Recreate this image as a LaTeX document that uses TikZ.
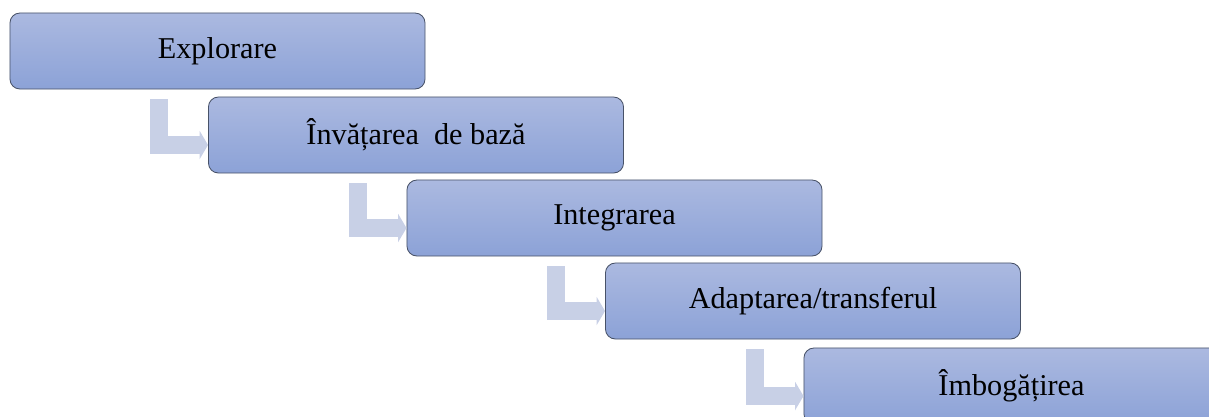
\documentclass[tikz,border=0pt]{standalone}
\usepackage{fontspec}
\setmainfont{Liberation Serif}
\usetikzlibrary{arrows.meta}
\begin{document}
\begin{tikzpicture}[x=0.025cm,y=-0.025cm]

	%DEFINITII
	\tikzstyle{every node}=[font=\fontsize{21.5}{26}\selectfont]
	\tikzstyle{etapa} = [draw={rgb,255:red,72; green,82; blue,104}, line width=0.6pt, rounded corners=0.25cm, align=center, top color={rgb,255:red,171; green,185; blue,224}, bottom color={rgb,255:red,140; green,162; blue,215}, minimum width=10.375cm, minimum height=1.9cm, inner sep=0pt]
	\tikzstyle{sageata} = [draw={rgb,255:red,200; green,208; blue,230}, line width=12.8pt, -{Triangle[length=6pt,width=20pt]}]

	\useasboundingbox (0,0) rectangle (1209,416);
	\clip (0,0) rectangle (1209,416);

	%BLOCURI
	\draw(217.5,51) node[etapa](e1){Explorare};
	\draw(416,135) node[etapa](e2){Învățarea\ \ de bază};
	\draw(614.5,218) node[etapa](e3){Integrarea};
	\draw(813,301) node[etapa](e4){Adaptarea/transferul};
	\draw(1011.5,386) node[etapa](e5){Îmbogățirea};

	%SAGETI
	\coordinate (s1) at ([xshift=3.74cm,yshift=-0.25cm]e1.south west);
	\coordinate (s2) at ([xshift=3.74cm,yshift=-0.25cm]e2.south west);
	\coordinate (s3) at ([xshift=3.74cm,yshift=-0.25cm]e3.south west);
	\coordinate (s4) at ([xshift=3.74cm,yshift=-0.25cm]e4.south west);
	\draw [sageata] (s1) |- ([yshift=-0.25cm]e2.west);
	\draw [sageata] (s2) |- ([yshift=-0.25cm]e3.west);
	\draw [sageata] (s3) |- ([yshift=-0.25cm]e4.west);
	\draw [sageata] (s4) |- ([yshift=-0.25cm]e5.west);
\end{tikzpicture}
\end{document}
